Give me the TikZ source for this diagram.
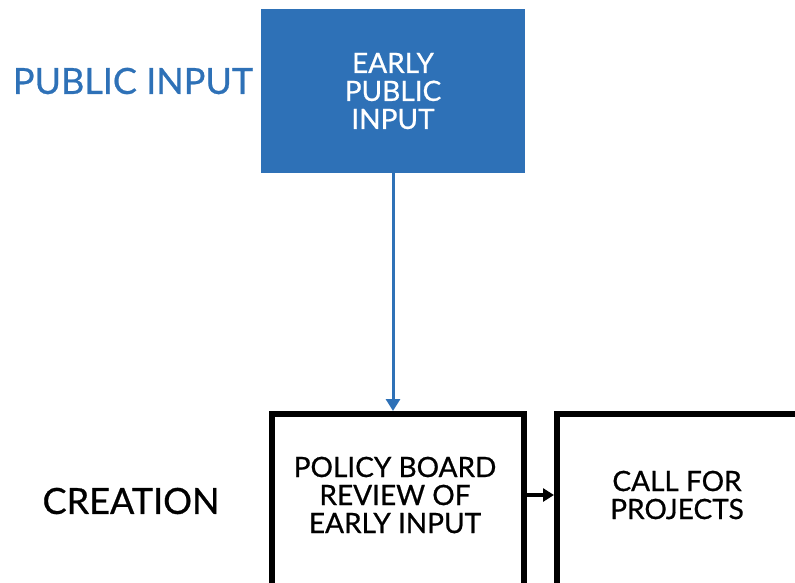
\documentclass[tikz,border=0pt]{standalone}
\usepackage{fontspec}
\setmainfont{Lato}
\newfontfamily\medfont{Lato}[FakeBold=0.7]
\usetikzlibrary{arrows.meta}
\definecolor{pblue}{RGB}{46,113,183}
\begin{document}
\begin{tikzpicture}[x=1pt,y=-1pt,
  bluebox/.style={fill=pblue,draw=none,minimum width=264pt,minimum height=164pt,inner sep=0pt},
  blackbox/.style={draw=black,line width=5.5pt,fill=white,minimum width=252pt,minimum height=200pt,inner sep=0pt},
  boxtext/.style={align=center,font=\medfont\fontsize{28}{28}\selectfont,inner sep=0pt},
  sidelabel/.style={font=\medfont\fontsize{36}{40}\selectfont,inner sep=0pt},
  conn/.style={line width=3pt,-{Triangle[width=14pt,length=12pt]}},
  bconn/.style={line width=4pt,-{Triangle[width=13pt,length=11pt]}}]
\useasboundingbox (0,0) rectangle (795,582);
\clip (0,0) rectangle (795,582);
\node[bluebox] (epi) at (393,91) {};
\node[boxtext,text=white] (epit) at (393,91) {EARLY\\PUBLIC\\INPUT};
\node[blackbox,anchor=north west] (b1) at (269,411) {};
\node[blackbox,anchor=north west,minimum width=260pt] (b2) at (554,411) {};
\node[boxtext] (b1t) at (395,495) {POLICY BOARD\\REVIEW OF\\EARLY INPUT};
\node[boxtext] (b2t) at (677,495) {CALL FOR\\PROJECTS};
\node[sidelabel,text=pblue] (pub) at (133,81) {PUBLIC INPUT};
\node[sidelabel] (cre) at (131,501) {CREATION};
\draw[conn,draw=pblue,fill=pblue] (epi.south -| 393,0) -- (b1.north -| 393,0);
\draw[bconn] (b1.east |- b1t.center) -- (b2.west |- b1t.center);
\end{tikzpicture}
\end{document}
